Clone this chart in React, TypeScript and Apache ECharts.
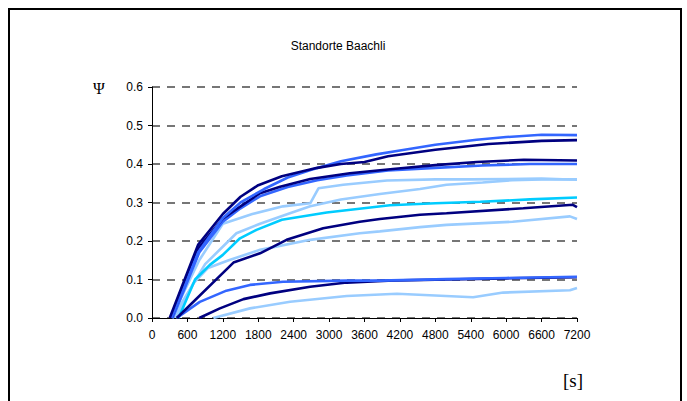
import React, { useEffect, useRef } from "react";
import * as echarts from "echarts";

const chartTitle = "Standorte Baachli";
const yAxisName = "Ψ";
const xAxisName = "[s]";
const xMin = 0;
const xMax = 7200;
const xStep = 600;
const yMin = 0;
const yMax = 0.6;
const yStep = 0.1;

// [time s, Ψ]
const navyTop: [number, number][] = [
  [300, 0], [780, 0.19], [1200, 0.27], [1500, 0.315], [1800, 0.345], [2200, 0.368],
  [2800, 0.39], [3200, 0.4], [3600, 0.405], [4000, 0.42], [4800, 0.437], [5700, 0.452],
  [6600, 0.46], [7200, 0.462],
];
const blueTop: [number, number][] = [
  [330, 0], [780, 0.17], [1200, 0.26], [1500, 0.3], [1900, 0.335], [2300, 0.365],
  [2700, 0.385], [3200, 0.407], [3800, 0.425], [4200, 0.435], [4800, 0.45], [5500, 0.463],
  [6000, 0.47], [6600, 0.476], [7200, 0.475],
];
const navySecond: [number, number][] = [
  [330, 0], [780, 0.18], [1200, 0.258], [1500, 0.29], [1830, 0.324], [2170, 0.341],
  [2680, 0.361], [3350, 0.376], [4080, 0.387], [4800, 0.397], [5500, 0.405], [6300, 0.411],
  [7200, 0.409],
];
const blueSecond: [number, number][] = [
  [350, 0], [800, 0.17], [1200, 0.25], [1500, 0.285], [1830, 0.316], [2300, 0.34],
  [2800, 0.358], [3300, 0.37], [4000, 0.383], [4800, 0.39], [5600, 0.396], [6400, 0.4],
  [7200, 0.4],
];
const lightUpper: [number, number][] = [
  [330, 0], [800, 0.15], [1200, 0.245], [1700, 0.27], [2220, 0.29], [2680, 0.298],
  [2820, 0.337], [3240, 0.346], [3980, 0.357], [4800, 0.36], [5400, 0.36], [6600, 0.362],
  [7200, 0.359],
];
const lightSecond: [number, number][] = [
  [350, 0], [900, 0.14], [1430, 0.22], [1830, 0.245], [2300, 0.27], [2680, 0.29],
  [3200, 0.308], [3860, 0.322], [4540, 0.335], [4990, 0.346], [5600, 0.352], [6100, 0.358],
  [6600, 0.36], [7200, 0.36],
];
const cyanLine: [number, number][] = [
  [450, 0], [730, 0.1], [980, 0.138], [1200, 0.164], [1490, 0.207], [1770, 0.229],
  [2200, 0.255], [2960, 0.274], [4030, 0.293], [4800, 0.298], [5560, 0.302],
  [6400, 0.308], [7200, 0.313],
];
const navyMiddle: [number, number][] = [
  [420, 0], [1380, 0.144], [1830, 0.168], [2280, 0.203], [2900, 0.233], [3520, 0.25],
  [3860, 0.257], [4540, 0.268], [4990, 0.272], [6290, 0.285], [7130, 0.294], [7200, 0.288],
];
const lightMiddle: [number, number][] = [
  [400, 0], [700, 0.09], [950, 0.13], [1300, 0.15], [1830, 0.177], [2680, 0.203],
  [3520, 0.22], [3860, 0.225], [4540, 0.236], [4990, 0.242], [6110, 0.25], [7080, 0.264],
  [7200, 0.257],
];
const blueLow: [number, number][] = [
  [420, 0], [810, 0.042], [1260, 0.071], [1660, 0.086], [2220, 0.094], [3300, 0.097],
  [3860, 0.097], [4990, 0.101], [6000, 0.104], [7200, 0.107],
];
const navyLow: [number, number][] = [
  [800, 0], [1150, 0.025], [1550, 0.049], [2000, 0.064], [2680, 0.081], [3300, 0.092],
  [4000, 0.097], [5000, 0.1], [6000, 0.103], [7200, 0.106],
];
const lightLow: [number, number][] = [
  [1040, 0], [1660, 0.025], [2340, 0.042], [3300, 0.057], [4150, 0.063], [5440, 0.054],
  [5950, 0.066], [7080, 0.072], [7200, 0.078],
];

const NAVY = "#000080";
const BLUE = "#3366ff";
const LIGHT = "#99ccff";
const CYAN = "#00ccff";

const seriesSpec: { data: [number, number][]; color: string }[] = [
  { data: lightLow, color: LIGHT },
  { data: lightMiddle, color: LIGHT },
  { data: lightSecond, color: LIGHT },
  { data: lightUpper, color: LIGHT },
  { data: cyanLine, color: CYAN },
  { data: navyLow, color: NAVY },
  { data: blueLow, color: BLUE },
  { data: navyMiddle, color: NAVY },
  { data: blueSecond, color: BLUE },
  { data: navySecond, color: NAVY },
  { data: blueTop, color: BLUE },
  { data: navyTop, color: NAVY },
];

const SANS = "'Liberation Sans', Arial, sans-serif";
const SERIF = "'Liberation Serif', 'Times New Roman', serif";

export default function App() {
  const ref = useRef<HTMLDivElement>(null);
  useEffect(() => {
    if (!ref.current) return;
    const chart = echarts.init(ref.current, null, { renderer: "svg" });
    chart.setOption({
      animation: false,
      backgroundColor: "#ffffff",
      grid: { left: 152, right: 110, top: 87, bottom: 83, containLabel: false },
      xAxis: {
        type: "value",
        min: xMin,
        max: xMax,
        interval: xStep,
        axisLine: { show: true, onZero: false, lineStyle: { color: "#000", width: 1 } },
        axisTick: { show: true, inside: false, length: 4, lineStyle: { color: "#000" } },
        axisLabel: {
          color: "#000",
          fontSize: 12,
          fontFamily: SANS,
          margin: 11,
          formatter: (v: number) => String(v),
        },
        splitLine: { show: false },
      },
      yAxis: {
        type: "value",
        min: yMin,
        max: yMax,
        interval: yStep,
        axisLine: { show: true, lineStyle: { color: "#000", width: 1 } },
        axisTick: { show: true, inside: false, length: 4, lineStyle: { color: "#000" } },
        axisLabel: {
          color: "#000",
          fontSize: 12,
          fontFamily: SANS,
          margin: 9,
          formatter: (v: number) => v.toFixed(1),
        },
        splitLine: {
          show: true,
          lineStyle: { color: "#4a4a4a", width: 1.5, type: [8, 7] },
        },
      },
      series: seriesSpec.map((s) => ({
        type: "line",
        data: s.data,
        showSymbol: false,
        symbol: "none",
        lineStyle: { color: s.color, width: 2.6 },
        itemStyle: { color: s.color },
        z: 3,
      })),
      graphic: [
        {
          type: "rect",
          shape: { x: 9, y: 9, width: 672, height: 420 },
          style: { fill: "none", stroke: "#000", lineWidth: 2 },
          silent: true,
        },
        {
          type: "text",
          x: 338,
          y: 46,
          style: {
            text: chartTitle,
            fontSize: 12,
            fontFamily: SANS,
            fill: "#000",
            align: "center",
            verticalAlign: "middle",
          },
        },
        {
          type: "text",
          x: 99,
          y: 88,
          style: {
            text: yAxisName,
            fontSize: 16,
            fontFamily: SERIF,
            fill: "#000",
            align: "center",
            verticalAlign: "middle",
          },
        },
        {
          type: "text",
          x: 573,
          y: 380,
          style: {
            text: xAxisName,
            fontSize: 19,
            fontFamily: SERIF,
            fill: "#000",
            align: "center",
            verticalAlign: "middle",
          },
        },
      ],
    });
    return () => chart.dispose();
  }, []);
  return (
    <div
      ref={ref}
      style={{ position: "absolute", left: 0, top: 0, width: 687, height: 401 }}
    />
  );
}
